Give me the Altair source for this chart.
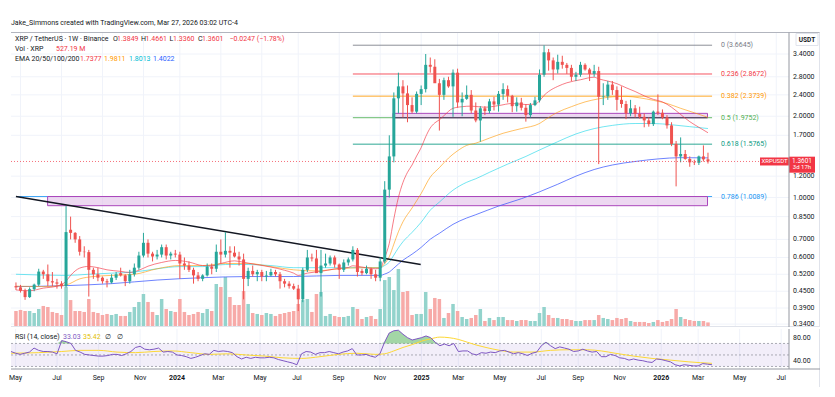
import altair as alt
import pandas as pd

# ---------------- data ----------------
# one weekly bar per Monday, first bar = week of 2023-04-24 (week offset -11)
OPEN = [0.470, 0.465, 0.452, 0.428, 0.458, 0.476, 0.532, 0.520, 0.490, 0.485, 0.480,
        0.470, 0.760, 0.740, 0.700, 0.630, 0.628, 0.540, 0.520, 0.505, 0.490, 0.485, 0.505, 0.525, 0.515,
        0.490, 0.520, 0.550, 0.610, 0.680, 0.620, 0.605, 0.615, 0.655, 0.610, 0.620, 0.615, 0.570, 0.560,
        0.540, 0.515, 0.500, 0.515, 0.555, 0.545, 0.630, 0.615, 0.635, 0.625, 0.605, 0.590,
        0.500, 0.535, 0.520, 0.530, 0.510, 0.515, 0.530, 0.520, 0.490, 0.480, 0.470, 0.460, 0.420,
        0.540, 0.600, 0.595, 0.525, 0.560, 0.570, 0.600, 0.565, 0.540, 0.575, 0.590, 0.640,
        0.535, 0.525, 0.545, 0.520, 0.505, 0.580, 1.070, 1.420, 2.330, 2.580, 2.430, 2.200, 2.080,
        2.420, 2.520, 3.100, 3.050, 2.650, 2.400, 2.720, 2.580, 2.900, 2.250, 2.320, 2.400, 2.100,
        1.930, 2.140, 2.090, 2.270, 2.210, 2.420, 2.520, 2.380, 2.180, 2.250, 2.150, 2.020, 2.200,
        2.290, 2.850, 3.450, 3.220, 2.980, 3.180, 3.100, 3.020, 2.800, 2.850, 3.100, 2.980,
        2.870, 2.940, 2.360, 2.370, 2.620, 2.500, 2.300, 2.220, 2.050, 2.140, 2.040, 1.990, 1.930,
        1.870, 2.080, 2.060, 1.980, 1.850, 1.580, 1.420, 1.450, 1.390, 1.350, 1.345, 1.420, 1.3849]
HIGH = [0.485, 0.475, 0.460, 0.465, 0.480, 0.545, 0.540, 0.565, 0.530, 0.500, 0.490,
        0.930, 0.850, 0.745, 0.720, 0.660, 0.640, 0.550, 0.550, 0.510, 0.500, 0.520, 0.530, 0.550, 0.520,
        0.540, 0.570, 0.630, 0.740, 0.700, 0.630, 0.640, 0.670, 0.670, 0.630, 0.640, 0.630, 0.600, 0.580,
        0.550, 0.530, 0.520, 0.570, 0.570, 0.670, 0.700, 0.745, 0.660, 0.660, 0.630, 0.620,
        0.550, 0.560, 0.540, 0.540, 0.535, 0.545, 0.540, 0.530, 0.500, 0.490, 0.480, 0.475, 0.550,
        0.640, 0.620, 0.640, 0.640, 0.620, 0.610, 0.610, 0.570, 0.590, 0.600, 0.660, 0.650,
        0.545, 0.560, 0.550, 0.540, 0.600, 1.150, 1.700, 2.450, 2.900, 2.720, 2.600, 2.350, 2.470,
        2.600, 3.400, 3.300, 3.250, 2.750, 2.780, 2.800, 2.980, 3.000, 2.450, 2.600, 2.500, 2.250,
        2.180, 2.180, 2.320, 2.360, 2.480, 2.650, 2.600, 2.400, 2.350, 2.340, 2.220, 2.240, 2.360,
        2.980, 3.660, 3.550, 3.300, 3.380, 3.350, 3.150, 3.100, 2.920, 3.180, 3.140, 3.020,
        3.100, 3.050, 2.650, 2.700, 2.700, 2.580, 2.580, 2.280, 2.300, 2.200, 2.170, 2.050, 1.980,
        2.100, 2.410, 2.120, 2.020, 1.900, 1.620, 1.670, 1.500, 1.420, 1.380, 1.430, 1.560, 1.4661]
LOW = [0.455, 0.445, 0.418, 0.425, 0.450, 0.470, 0.500, 0.470, 0.470, 0.460, 0.460,
       0.465, 0.700, 0.680, 0.610, 0.600, 0.430, 0.500, 0.490, 0.480, 0.465, 0.480, 0.495, 0.510, 0.470,
       0.480, 0.510, 0.540, 0.600, 0.600, 0.580, 0.590, 0.600, 0.590, 0.590, 0.600, 0.500, 0.540, 0.530,
       0.480, 0.490, 0.490, 0.510, 0.520, 0.530, 0.570, 0.600, 0.550, 0.600, 0.560, 0.420,
       0.470, 0.510, 0.490, 0.490, 0.490, 0.510, 0.510, 0.460, 0.465, 0.460, 0.455, 0.380, 0.410,
       0.530, 0.580, 0.530, 0.430, 0.550, 0.560, 0.550, 0.500, 0.530, 0.560, 0.580, 0.510,
       0.515, 0.520, 0.500, 0.490, 0.490, 0.570, 1.000, 1.350, 2.050, 1.980, 1.900, 2.050, 2.050,
       2.200, 2.450, 2.900, 2.700, 1.770, 2.300, 2.550, 1.990, 2.150, 2.000, 2.300, 2.050, 1.900,
       1.610, 2.020, 2.050, 2.100, 2.080, 2.300, 2.250, 2.070, 2.080, 2.100, 1.910, 1.980, 2.180,
       2.250, 2.800, 2.950, 2.720, 2.880, 3.000, 2.870, 2.700, 2.700, 2.800, 2.950, 2.700,
       2.800, 1.330, 2.200, 2.300, 2.400, 2.100, 2.150, 1.950, 2.000, 1.980, 1.960, 1.820, 1.830,
       1.840, 2.020, 1.950, 1.800, 1.550, 1.100, 1.350, 1.380, 1.300, 1.320, 1.320, 1.360, 1.3360]
CLOSE = [0.465, 0.452, 0.428, 0.458, 0.476, 0.532, 0.520, 0.490, 0.485, 0.480, 0.470,
         0.745, 0.740, 0.700, 0.630, 0.628, 0.540, 0.520, 0.505, 0.490, 0.485, 0.505, 0.520, 0.515, 0.490,
         0.520, 0.550, 0.610, 0.680, 0.620, 0.605, 0.615, 0.655, 0.610, 0.620, 0.615, 0.570, 0.560, 0.540,
         0.515, 0.500, 0.515, 0.555, 0.545, 0.630, 0.615, 0.635, 0.625, 0.605, 0.590, 0.500,
         0.535, 0.520, 0.530, 0.510, 0.515, 0.530, 0.520, 0.490, 0.480, 0.470, 0.460, 0.420, 0.540,
         0.600, 0.595, 0.525, 0.560, 0.570, 0.600, 0.565, 0.540, 0.575, 0.590, 0.640, 0.530,
         0.525, 0.545, 0.520, 0.505, 0.580, 1.070, 1.420, 2.330, 2.580, 2.430, 2.200, 2.080, 2.420,
         2.520, 3.100, 3.050, 2.650, 2.400, 2.720, 2.580, 2.900, 2.250, 2.320, 2.400, 2.100, 1.930,
         2.140, 2.090, 2.270, 2.210, 2.420, 2.520, 2.380, 2.180, 2.250, 2.150, 2.020, 2.200, 2.290,
         2.850, 3.450, 3.220, 2.980, 3.180, 3.100, 3.020, 2.800, 2.850, 3.100, 2.980, 2.870,
         2.940, 2.360, 2.370, 2.620, 2.500, 2.300, 2.220, 2.050, 2.140, 2.040, 1.990, 1.930, 1.870,
         2.080, 2.060, 1.980, 1.850, 1.580, 1.420, 1.450, 1.390, 1.350, 1.345, 1.420, 1.385, 1.3601]
VOLUME_M = [1840, 1960, 1840, 1840, 1610, 2070, 2420, 2300, 1730, 1610, 1380,
            4600, 3100, 1840, 1840, 1730, 3220, 1730, 1610, 1380, 1500, 1380, 1500, 1270, 1270,
            1730, 2300, 2880, 3800, 2880, 1730, 1380, 3220, 2070, 1840, 1730, 3220, 1730, 1380,
            1500, 1730, 1610, 2070, 1840, 4950, 4600, 5750, 3450, 2530, 2530, 4140,
            2650, 1610, 1500, 1380, 1610, 1500, 1270, 1500, 1610, 1730, 1840, 2650, 3100,
            3220, 1730, 3800, 4030, 1270, 1500, 1270, 1150, 1150, 1270, 2300, 2070,
            920, 1150, 1270, 920, 2070, 5400, 5750, 4250, 6670, 4030, 4140, 1380, 1500,
            1500, 4030, 2070, 3340, 3220, 1040, 1610, 2650, 1840, 1150, 920, 1040, 1380,
            2070, 690, 1040, 800, 1150, 1150, 800, 800, 690, 800, 800, 690, 690,
            1610, 2300, 1380, 1040, 1040, 920, 920, 800, 690, 690, 800, 800,
            800, 1380, 1040, 920, 800, 1040, 920, 1040, 690, 580, 580, 580, 460,
            580, 800, 580, 690, 920, 2070, 1150, 920, 800, 690, 690, 690, 527.19]

# indicator curves as (week offset from 2023-07-10, value)
EMA20 = [(-11, .455), (-8, .452), (-5, .462), (-2, .47), (0, .49), (1, .515), (2, .535), (3, .548),
         (5, .556), (7, .55), (9, .54), (12, .533), (14, .528), (16, .538), (18, .557), (21, .575),
         (24, .585), (27, .577), (30, .56), (32, .559), (34, .57), (37, .583), (39, .576), (42, .564),
         (45, .553), (48, .538), (50, .525), (51, .515), (53, .525), (56, .533), (59, .544), (62, .551),
         (63, .559), (65, .553), (68, .545), (69, .548), (70, .599), (71, .677), (72, .834), (73, 1.0),
         (74, 1.137), (75, 1.24), (76, 1.32), (77, 1.425), (78, 1.53), (79, 1.68), (80, 1.81), (81, 1.89),
         (82, 1.94), (83, 2.01), (85, 2.14), (87, 2.17), (89, 2.18), (92, 2.16), (95, 2.19), (98, 2.23),
         (101, 2.21), (103, 2.22), (104, 2.28), (105, 2.39), (106, 2.47), (108, 2.58), (110, 2.66),
         (113, 2.73), (116, 2.79), (117, 2.75), (119, 2.70), (121, 2.64), (123, 2.55), (125, 2.47),
         (127, 2.38), (129, 2.31), (131, 2.26), (133, 2.16), (135, 2.03), (137, 1.91), (139, 1.82),
         (141, 1.7377)]
EMA50 = [(-11, .47), (-5, .468), (0, .475), (3, .50), (6, .51), (10, .515), (15, .52), (20, .545),
         (25, .56), (30, .56), (35, .57), (40, .57), (45, .555), (50, .54), (55, .535), (60, .545),
         (65, .55), (69, .55), (70, .57), (71, .604), (72, .672), (73, .747), (74, .813), (76, .915),
         (78, 1.035), (80, 1.19), (82, 1.29), (84, 1.40), (86, 1.49), (88, 1.56), (90, 1.59), (93, 1.66),
         (96, 1.73), (100, 1.80), (104, 1.88), (106, 1.98), (108, 2.07), (111, 2.17), (114, 2.26),
         (117, 2.32), (120, 2.36), (123, 2.37), (126, 2.34), (129, 2.29), (132, 2.23), (135, 2.14),
         (138, 2.06), (141, 1.9811)]
EMA100 = [(-11, .52), (0, .515), (5, .52), (10, .525), (15, .53), (20, .545), (25, .555), (30, .555),
          (35, .565), (40, .565), (45, .56), (50, .55), (55, .55), (60, .55), (65, .55), (69, .55),
          (70, .5605), (71, .577), (72, .612), (73, .651), (74, .686), (76, .743), (78, .81), (80, .898),
          (82, .962), (85, 1.065), (88, 1.139), (90, 1.174), (93, 1.24), (97, 1.33), (101, 1.42),
          (104, 1.50), (108, 1.61), (112, 1.72), (116, 1.80), (120, 1.85), (125, 1.88), (129, 1.88),
          (133, 1.86), (137, 1.83), (141, 1.8013)]
EMA200 = [(-11, .468), (0, .472), (10, .48), (20, .495), (30, .505), (40, .51), (50, .51), (60, .515),
          (69, .515), (70, .521), (71, .53), (72, .548), (74, .586), (76, .617), (78, .654), (80, .701),
          (82, .737), (85, .796), (88, .84), (90, .864), (95, .93), (100, .99), (104, 1.05), (108, 1.12),
          (112, 1.20), (116, 1.27), (120, 1.32), (125, 1.36), (130, 1.39), (135, 1.405), (141, 1.4022)]
RSI = [(-11, 56), (-10, 53), (-9, 51), (-8, 53), (-7, 55), (-6, 62), (-5, 58), (-4, 56), (-3, 56),
       (-2, 55), (-1, 52), (0, 75), (1, 73), (2, 70), (3, 58), (4, 55), (5, 51), (6, 50), (7, 49),
       (8, 48), (9, 48), (10, 49), (11, 51), (12, 51), (13, 49), (14, 52), (15, 56), (16, 63), (17, 65),
       (18, 60), (19, 59), (20, 60), (21, 62), (22, 55), (23, 56), (24, 55), (25, 50), (26, 49), (27, 47),
       (28, 44), (29, 46), (30, 49), (31, 52), (32, 51), (33, 58), (34, 56), (35, 57), (36, 56), (37, 54),
       (38, 47), (39, 43), (40, 46), (41, 44), (42, 46), (43, 45), (44, 45), (45, 46), (46, 45), (47, 42),
       (48, 40), (49, 38), (50, 36), (51, 33), (52, 52), (53, 56), (54, 55), (55, 51), (56, 54), (57, 54),
       (58, 56), (59, 54), (60, 52), (61, 55), (62, 57), (63, 61), (64, 50), (65, 50), (66, 51), (67, 48),
       (68, 46), (69, 52), (70, 72), (71, 88), (72, 92), (73, 93), (74, 86), (75, 80), (76, 76), (77, 78),
       (78, 80), (79, 83), (80, 80), (81, 72), (82, 66), (83, 69), (84, 66), (85, 70), (86, 56), (87, 57),
       (88, 57), (89, 52), (90, 50), (91, 54), (92, 53), (93, 55), (94, 54), (95, 57), (96, 58), (97, 55),
       (98, 52), (99, 54), (100, 52), (101, 49), (102, 53), (103, 55), (104, 66), (105, 72), (106, 66),
       (107, 61), (108, 64), (109, 62), (110, 60), (111, 56), (112, 57), (113, 60), (114, 57), (115, 55),
       (116, 56), (117, 47), (118, 47), (119, 51), (120, 49), (121, 45), (122, 44), (123, 41), (124, 43),
       (125, 41), (126, 40), (127, 38), (128, 37), (129, 43), (130, 42), (131, 40), (132, 38), (133, 33),
       (134, 31), (135, 33), (136, 32), (137, 31), (138, 31), (139, 35), (140, 34), (141, 33.03)]
RSI_MA = [(-11, 53), (-5, 54), (0, 56), (4, 58), (8, 58), (12, 55), (16, 54), (20, 56), (24, 57),
          (28, 54), (32, 51), (36, 52), (40, 50), (44, 48), (48, 45), (52, 44), (56, 47), (60, 51),
          (64, 53), (68, 51), (70, 52), (72, 57), (74, 63), (76, 68), (78, 74), (80, 78), (82, 81),
          (84, 80), (86, 77), (88, 72), (90, 67), (92, 63), (95, 58), (98, 55), (102, 55), (106, 58),
          (110, 59), (114, 59), (117, 57), (120, 53), (124, 48), (128, 44), (132, 41), (136, 38),
          (141, 35.42)]

TICK_DATES = ["2023-05-01", "2023-07-03", "2023-09-04", "2023-11-06", "2024-01-01", "2024-03-04",
              "2024-05-06", "2024-07-01", "2024-09-02", "2024-11-04", "2025-01-06", "2025-03-03",
              "2025-05-05", "2025-07-07", "2025-09-01", "2025-11-03", "2026-01-05", "2026-03-02",
              "2026-05-04", "2026-07-06"]
TICK_LABELS = ["May", "Jul", "Sep", "Nov", "2024", "Mar", "May", "Jul", "Sep", "Nov", "2025", "Mar",
               "May", "Jul", "Sep", "Nov", "2026", "Mar", "May", "Jul"]
PRICE_TICKS = [0.34, 0.39, 0.45, 0.52, 0.60, 0.70, 0.85, 1.00, 1.20, 1.70, 2.00, 2.40, 2.80, 3.40]
RSI_TICKS = [40, 80]

FIB_LEVEL = ["0", "0.236", "0.382", "0.5", "0.618", "0.786"]
FIB_PRICE = [3.6645, 2.8672, 2.3739, 1.9752, 1.5765, 1.0089]
FIB_FROM_WK = [63, 63, 63, 63, 63, -11]
BOX_FROM_WK = [-4.05, 71.8]
BOX_TO_WK = [140.9, 140.9]
BOX_LO = [0.933, 1.975]
BOX_HI = [1.0089, 2.05]
TREND_WK = [-11, 77.9]
TREND_P = [1.009, 0.565]

# ---------------- styling ----------------
FONT = "Roboto"
TXT = "#131722"
GRID = "#f0f3fa"
UP, DOWN = "#26a69a", "#ef5350"
UPV, DOWNV = "#93d3cc", "#f7aaa8"
FIB_COLOR = ["#787b86", "#f23645", "#ff9800", "#4caf50", "#089981", "#2196f3"]
W, HP, HR = 778, 319, 40

ANCHOR = pd.Timestamp("2023-07-10")


def wms(w):
    return int((ANCHOR + pd.Timedelta(days=7 * w)).value // 10**6)


def dms(s):
    return int(pd.Timestamp(s).value // 10**6)


XD = [wms(-10.993), wms(157.70)]
YS = dict(type="log", domain=[0.3317, 5.0327], nice=False)
RS = dict(domain=[25.6, 95.1], nice=False, zero=False)
VOL_TOP = 36700


def X(field="t"):
    return alt.X(f"{field}:T", scale=alt.Scale(type="utc", domain=XD), axis=None)


def PY(field):
    return alt.Y(f"{field}:Q", scale=alt.Scale(**YS), axis=None)


def RY(field):
    return alt.Y(f"{field}:Q", scale=alt.Scale(**RS), axis=None)


ONE = pd.DataFrame({"k": [0]})


def label(s, x, y, color=TXT, size=7, weight="normal", align="left"):
    return alt.Chart(ONE).mark_text(align=align, baseline="middle", font=FONT, fontSize=size,
                                    fontWeight=weight, color=color).encode(
        x=alt.value(x), y=alt.value(y), text=alt.value(s))


def curve(pairs):
    return pd.DataFrame({"t": [wms(w) for w, _ in pairs], "v": [v for _, v in pairs]})


weeks = list(range(-11, -11 + len(CLOSE)))
bars = pd.DataFrame({"t": [wms(w) for w in weeks], "open": OPEN, "high": HIGH, "low": LOW,
                     "close": CLOSE, "vol": VOLUME_M})
UPCOND = "datum.close >= datum.open"
ticks = pd.DataFrame({"t": [dms(s) for s in TICK_DATES], "lab": TICK_LABELS,
                      "year": [lab.isdigit() for lab in TICK_LABELS]})
pticks = pd.DataFrame({"p": PRICE_TICKS})
fib = pd.DataFrame({"lvl": FIB_LEVEL, "p": FIB_PRICE, "t1": [wms(w) for w in FIB_FROM_WK],
                    "t2": [wms(141.9)] * len(FIB_LEVEL),
                    "label": [f"{l} ({p:.4f})" for l, p in zip(FIB_LEVEL, FIB_PRICE)]})
boxes = pd.DataFrame({"t1": [wms(w) for w in BOX_FROM_WK], "t2": [wms(w) for w in BOX_TO_WK],
                      "lo": BOX_LO, "hi": BOX_HI})
box2 = boxes.iloc[[1]].reset_index(drop=True)
trend = pd.DataFrame({"t": [wms(w) for w in TREND_WK], "v": TREND_P})
LAST = CLOSE[-1]
lastdf = pd.DataFrame({"p": [LAST]})
fibcol = alt.Color("lvl:N", scale=alt.Scale(domain=FIB_LEVEL, range=FIB_COLOR), legend=None)

# ---------------- price pane ----------------
vgrid = alt.Chart(ticks).mark_rule(color=GRID, strokeWidth=1).encode(x=X(), y=alt.value(24.5), y2=alt.value(HP))
hgrid = alt.Chart(pticks).mark_rule(color=GRID, strokeWidth=1).encode(y=PY("p"))
fib_lines = alt.Chart(fib).mark_rule(strokeWidth=1, opacity=0.85).encode(
    x=X("t1"), x2="t2:T", y=PY("p"), color=fibcol)
box_rects = alt.Chart(boxes).mark_rect(fill="#e1bee7", fillOpacity=0.6, stroke="#ab47bc", strokeWidth=1).encode(
    x=X("t1"), x2="t2:T", y=PY("lo"), y2="hi:Q")
box_base = alt.Chart(box2).mark_rule(color="#434651", strokeWidth=1).encode(
    x=X("t1"), x2="t2:T", y=PY("lo"))
vol = alt.Chart(bars).mark_bar(size=3.5, clip=True).encode(
    x=X(), y=alt.Y("vol:Q", scale=alt.Scale(domain=[0, VOL_TOP]), axis=None),
    color=alt.condition(UPCOND, alt.value(UPV), alt.value(DOWNV)))


def ema(pairs, color, op):
    return alt.Chart(curve(pairs)).mark_line(color=color, strokeWidth=1, opacity=op, interpolate="monotone",
                                             clip=True).encode(x=X(), y=PY("v"))


trend_line = alt.Chart(trend).mark_line(color=TXT, strokeWidth=1.5, clip=True).encode(x=X(), y=PY("v"))
wick = alt.Chart(bars).mark_rule(strokeWidth=1, clip=True).encode(
    x=X(), y=PY("low"), y2="high:Q", color=alt.condition(UPCOND, alt.value(UP), alt.value(DOWN)))
body = alt.Chart(bars).mark_bar(size=3, clip=True).encode(
    x=X(), y=PY("open"), y2="close:Q", color=alt.condition(UPCOND, alt.value(UP), alt.value(DOWN)))
fib_text = alt.Chart(fib).mark_text(align="left", baseline="middle", font=FONT, fontSize=7).encode(
    x=alt.value(710), y=PY("p"), text="label:N", color=fibcol)
price_labels = alt.Chart(pticks).mark_text(align="left", baseline="middle", font=FONT, fontSize=7, color=TXT).encode(
    x=alt.value(W + 4), y=PY("p"), text=alt.Text("p:Q", format=".4f"))
price_line = alt.Chart(lastdf).mark_rule(color="#f23645", strokeDash=[1, 2], opacity=0.7).encode(
    x=alt.value(0), x2=alt.value(W), y=PY("p"))
tag1 = alt.Chart(lastdf).mark_rule(color="#f23645", strokeWidth=8).encode(
    x=alt.value(749), x2=alt.value(778), y=PY("p"))
tag2 = alt.Chart(lastdf).mark_rule(color="#f23645", strokeWidth=16, yOffset=3.2).encode(
    x=alt.value(778), x2=alt.value(804), y=PY("p"))
tag1t = alt.Chart(lastdf).mark_text(color="white", font=FONT, fontSize=6).encode(
    x=alt.value(763.5), y=PY("p"), text=alt.value("XRPUSDT"))
tag2t = alt.Chart(lastdf).mark_text(color="white", font=FONT, fontSize=6.5, yOffset=-0.8).encode(
    x=alt.value(791), y=PY("p"), text=alt.value(f"{LAST:.4f}"))
tag3t = alt.Chart(lastdf).mark_text(color="white", font=FONT, fontSize=6, yOffset=5.8).encode(
    x=alt.value(791), y=PY("p"), text=alt.value("3d 17h"))
frame = [
    alt.Chart(ONE).mark_rule(color="#b2b5be").encode(x=alt.value(0), x2=alt.value(809), y=alt.value(24.5)),
    alt.Chart(ONE).mark_rule(color="#e0e3eb").encode(x=alt.value(0), x2=alt.value(809), y=alt.value(HP - 0.5)),
    alt.Chart(ONE).mark_rule(color="#9598a1").encode(x=alt.value(W), y=alt.value(24.5), y2=alt.value(HP)),
    alt.Chart(ONE).mark_rule(color="#e0e3eb").encode(x=alt.value(808.5), y=alt.value(24.5), y2=alt.value(HP)),
    alt.Chart(ONE).mark_rect(fill="white", stroke="#e0e3eb").encode(
        x=alt.value(785), x2=alt.value(807), y=alt.value(25.5), y2=alt.value(37.5)),
]
legend = [
    label("Jake_Simmons created with TradingView.com, Mar 27, 2026 03:02 UTC-4", 0, 15),
    label("XRP / TetherUS · 1W · Binance", 4, 30.7),
    label("O", 102, 30.7), label("1.3849", 106, 30.7, "#f23645"),
    label("H", 130, 30.7), label("1.4661", 134.5, 30.7, "#f23645"),
    label("L", 158.5, 30.7), label("1.3360", 162, 30.7, "#f23645"),
    label("C", 187, 30.7), label("1.3601", 191, 30.7, "#f23645"),
    label("−0.0247 (−1.78%)", 218.5, 30.7, "#f23645"),
    label("Vol · XRP", 4, 40.7), label("527.19 M", 45, 40.7, "#f23645"),
    label("EMA 20/50/100/200", 4, 51), label("1.7377", 69, 51, "#f23645"),
    label("1.9811", 93, 51, "#ff9800"), label("1.8013", 118, 51, "#00bcd4"),
    label("1.4022", 142, 51, "#2962ff"),
    label("USDT", 796, 31.5, TXT, 6.5, "bold", "center"),
]

back = alt.layer(vgrid, hgrid, fib_lines, box_rects, box_base)
front = alt.layer(
    ema(EMA200, "#3d5afe", 0.75), ema(EMA100, "#00d2e6", 0.55), ema(EMA50, "#ff9800", 0.6),
    ema(EMA20, "#f23645", 0.65), trend_line, wick, body, fib_text, price_labels, price_line,
    tag1, tag2, tag1t, tag2t, tag3t, *frame, *legend,
)
price = alt.layer(back, vol, front).resolve_scale(y="independent").properties(width=W, height=HP)

# ---------------- RSI pane ----------------
rsi_df = curve(RSI)
ma_df = curve(RSI_MA)
rsi_grid = alt.Chart(ticks).mark_rule(color=GRID).encode(x=X())
banddf = pd.DataFrame({"hi": [70], "lo": [30]})
band = alt.Chart(banddf).mark_rect(fill="#7e57c2", fillOpacity=0.1).encode(
    x=alt.value(0), x2=alt.value(W), y=RY("hi"), y2="lo:Q")
levels = alt.Chart(pd.DataFrame({"lv": [70, 50, 30]})).mark_rule(
    color="#9598a1", strokeDash=[2, 2], strokeWidth=0.8).encode(y=RY("lv"))
ob = alt.Chart(rsi_df).transform_calculate(top="max(datum.v, 70)", base="70").mark_area(
    color="#66bb6a", opacity=0.6, clip=True).encode(x=X(), y=RY("top"), y2="base:Q")
rsi_line = alt.Chart(rsi_df).mark_line(color="#7e57c2", strokeWidth=1, clip=True).encode(x=X(), y=RY("v"))
ma_line = alt.Chart(ma_df).mark_line(color="#fdd835", strokeWidth=1, interpolate="monotone", clip=True).encode(
    x=X(), y=RY("v"))
rsi_labels = alt.Chart(pd.DataFrame({"r": RSI_TICKS})).mark_text(
    align="left", baseline="middle", font=FONT, fontSize=7, color=TXT).encode(
    x=alt.value(W + 4), y=RY("r"), text=alt.Text("r:Q", format=".2f"))
month_labels = alt.Chart(ticks).transform_filter("!datum.year").mark_text(
    baseline="middle", font=FONT, fontSize=7, color=TXT).encode(x=X(), y=alt.value(HR + 9), text="lab:N")
year_labels = alt.Chart(ticks).transform_filter("datum.year").mark_text(
    baseline="middle", font=FONT, fontSize=7, fontWeight="bold", color=TXT).encode(
    x=X(), y=alt.value(HR + 9), text="lab:N")
rsi_frame = [
    alt.Chart(ONE).mark_rule(color="#9598a1").encode(x=alt.value(W), y=alt.value(0), y2=alt.value(HR)),
    alt.Chart(ONE).mark_rule(color="#e0e3eb").encode(x=alt.value(808.5), y=alt.value(0), y2=alt.value(HR + 18)),
    alt.Chart(ONE).mark_rule(color="#9598a1").encode(x=alt.value(0), x2=alt.value(809), y=alt.value(HR)),
]
rsi_legend = [
    label("RSI (14, close)", 4, 8), label("33.03", 52, 8, "#7e57c2"), label("35.42", 72, 8, "#e3c000"),
    label("∅", 94, 8), label("∅", 106, 8),
]
rsi = alt.layer(rsi_grid, band, levels, ob, ma_line, rsi_line, rsi_labels, month_labels, year_labels,
                *rsi_frame, *rsi_legend).properties(width=W, height=HR)

chart = alt.vconcat(price, rsi, spacing=0).properties(
    padding={"left": 0, "top": 0, "right": 4, "bottom": 14}, background="white"
).configure_view(strokeWidth=0)

chart.save("out.html", embed_options={"renderer": "svg", "actions": False})
